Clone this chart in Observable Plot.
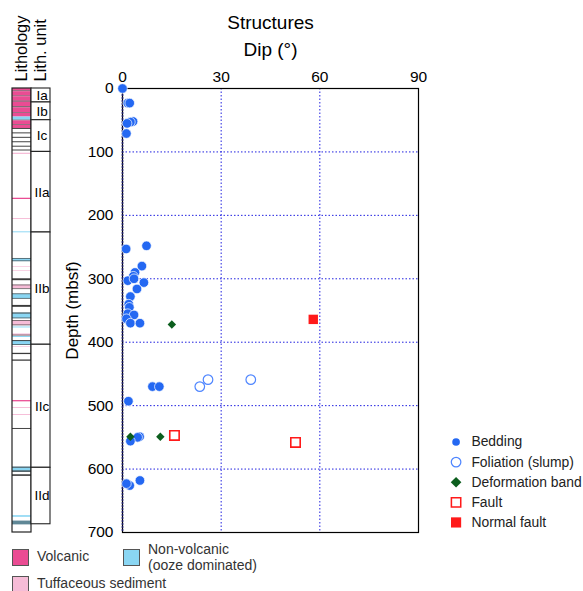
<!DOCTYPE html>
<html><head><meta charset="utf-8">
<script src="https://cdn.jsdelivr.net/npm/d3@7"></script>
<script src="https://cdn.jsdelivr.net/npm/@observablehq/plot@0.6"></script>
<style>
body{margin:0;background:#fff;font-family:"Liberation Sans",Arial,sans-serif;}
#wrap{position:relative;width:583px;height:591px;overflow:hidden;}
#wrap>div.abs{position:absolute;}
.sw{position:absolute;width:15px;height:15px;border:1px solid #555;}
.lt{position:absolute;font-size:14px;color:#333;line-height:16px;white-space:nowrap;}
</style></head><body>
<div id="wrap"></div>
<script>
// ---- Data ----
const dipTicks = [0, 30, 60, 90];
const depthTicks = [0, 100, 200, 300, 400, 500, 600, 700];

const beddingDip   = [0,1.6,2.2,3.2,2.4,1.4,1.2, 1.1,7.3,5.9,3.8,3.3,1.6,3.5,6.5,4.4,2.4,1.9,2.1,1.6,3.5,1.2,2.4,5.3, 9.1,11.2,1.8, 5.2,4.6,2.4, 5.3,2.2,1.2];
const beddingDepth = [0,23,23,52,53,55,71, 253,248,280,290,296,303,300,306,316,328,340,345,355,357,363,370,370, 470,470,493, 549,550,556, 618,626,623];
const foliationDip   = [26, 39, 23.5];
const foliationDepth = [459, 459, 470];
const deformDip   = [15, 2.4, 11.5];
const deformDepth = [372, 549, 549];
const faultDip   = [15.8, 52.6];
const faultDepth = [547, 558];
const normalFaultDip   = [58];
const normalFaultDepth = [364];

const legendNames = ["Bedding", "Foliation (slump)", "Deformation band", "Fault", "Normal fault"];

const unitNames  = ["Ia", "Ib", "Ic", "IIa", "IIb", "IIc", "IId"];
const unitTop    = [0, 22, 50, 100, 227, 404, 598];
const unitBottom = [22, 50, 100, 227, 404, 598, 687];

// lithology layers: top, bottom, type (V volcanic, T tuffaceous, O ooze, D dark line, G grey band)
const layerTop    = [0,4,5,12,13,20,21.5,29,30.5,38,39,45,50,51,57,58,63, 70,77,84,91,97,102, 173,205,226, 268,268,272,281,287,300,310,310,316,324,324,331,342,354,354,362,366,366,373,376, 387,389,391,397.5,397.5,404,407,417.5,428,492,503,514,536,597,597,603,609,673.5,682];
const layerBottom = [4,5,12,13,20,21.5,29,30.5,38,39,45,50,51,57,58,63,64.5, 71.5,78.5,85.5,92.5,98.5,104, 175,206.5,227.5, 273,269,273,282,288,303,316,311,317,332,325,332,345,363,355.5,363,374,367,374,377.5, 390,390,392.5,405,399,405,408,419.5,430,494,504.5,515.5,537.5,605,598.5,605,611.5,676,688];
const layerType   = ["V","D","V","D","V","D","V","D","V","D","V","O","D","V","D","V","D", "D","D","D","D","D","T", "V","T","O", "O","D","D","T","T","D","T","D","D","O","D","D","D","O","D","D","T","D","D","O", "T","D","O","O","D","D","T","D","D","V","T","T","D","O","D","D","D","O","G"];

const litColor = {V:"#ea4c93", T:"#f6bcd7", O:"#8ad6f3", D:"#3b3b3b", G:"#5f8796"};

// ---- Build tables ----
const zip = (a, b) => a.map((v, i) => ({dip: v, depth: b[i]}));
const bedding = zip(beddingDip, beddingDepth);
const foliation = zip(foliationDip, foliationDepth);
const deform = zip(deformDip, deformDepth);
const fault = zip(faultDip, faultDepth);
const normalFault = zip(normalFaultDip, normalFaultDepth);
const units = unitNames.map((n, i) => ({name: n, top: unitTop[i], bottom: unitBottom[i]}));
const layers = layerTop.map((t, i) => ({top: t, bottom: layerBottom[i], type: layerType[i]}));

const FONT = "Liberation Sans, Arial, sans-serif";
const BLUE = "#2468f2", FOL = "#4f86ff", GREEN = "#0c5e1e", RED = "#ff1a1a";
const grid = {stroke: "#2020e0", strokeOpacity: 1, strokeWidth: 1, strokeDasharray: "1.5,2"};

const main = Plot.plot({
  width: 583, height: 591,
  marginTop: 88, marginBottom: 59, marginLeft: 122, marginRight: 165,
  style: {fontFamily: FONT, fontSize: "15.5px", color: "#000", background: "transparent", overflow: "visible"},
  x: {domain: [0, 90]},
  y: {domain: [0, 700], reverse: true},
  marks: [
    Plot.gridX(dipTicks.slice(1, 3), grid),
    Plot.gridY(depthTicks.slice(1, 7), grid),
    Plot.frame({stroke: "#000", strokeWidth: 1.2}),
    Plot.ruleX([0], {stroke: "#1a1a66", strokeWidth: 1.6, strokeDasharray: "2,1"}),
    Plot.axisX(dipTicks, {anchor: "top", tickSize: 0, tickPadding: 7, label: null, fontSize: 15.5}),
    Plot.axisY(depthTicks, {anchor: "left", tickSize: 0, tickPadding: 9, label: null, fontSize: 15.5}),
    Plot.text(["Depth (mbsf)"], {frameAnchor: "left", dx: -50, rotate: -90, fontSize: 17, textAnchor: "middle", lineAnchor: "middle"}),
    Plot.text(["Structures"], {frameAnchor: "top", dy: -66, fontSize: 19, textAnchor: "middle", lineAnchor: "middle"}),
    Plot.text(["Dip (°)"], {frameAnchor: "top", dy: -39, fontSize: 19, textAnchor: "middle", lineAnchor: "middle"}),
    Plot.dot(foliation, {x: "dip", y: "depth", r: 4.8, fill: "white", stroke: FOL, strokeWidth: 1.2}),
    Plot.dot(bedding, {x: "dip", y: "depth", r: 4.8, fill: BLUE, stroke: "white", strokeWidth: 0.7}),
    Plot.dot(deform, {x: "dip", y: "depth", symbol: "diamond2", r: 3.8, fill: GREEN}),
    Plot.dot(fault, {x: "dip", y: "depth", symbol: "square", r: 5.3, fill: "white", stroke: RED, strokeWidth: 1.6}),
    Plot.dot(normalFault, {x: "dip", y: "depth", symbol: "square", r: 5.3, fill: RED})
  ]
});

const lith = Plot.plot({
  width: 60, height: 591,
  marginTop: 88, marginBottom: 59, marginLeft: 0, marginRight: 0,
  style: {fontFamily: FONT, fontSize: "13px", color: "#000", background: "transparent", overflow: "visible"},
  x: {type: "band", domain: ["lith", "unit"], range: [11.7, 51], padding: 0, axis: null},
  y: {domain: [0, 700], reverse: true, axis: null},
  marks: [
    Plot.barY([0], {x: () => "lith", y1: 0, y2: 700, fill: "white", insetLeft: 0, insetRight: 0}),
    Plot.barY(layers, {x: () => "lith", y1: "top", y2: "bottom", fill: d => litColor[d.type], insetLeft: 0, insetRight: 0}),
    Plot.barY([0], {x: () => "lith", y1: 0, y2: 700, fill: "none", stroke: "#222", strokeWidth: 1.2, insetLeft: 0, insetRight: 0}),
    Plot.barY(units, {x: () => "unit", y1: "top", y2: "bottom", fill: "white", stroke: "#222", strokeWidth: 1.1, insetLeft: 0, insetRight: 0}),
    Plot.text(units, {x: () => "unit", y: d => (d.top + d.bottom) / 2, text: "name", fontSize: 13.5, dx: 1}),
    Plot.text(["Lithology"], {x: () => "lith", frameAnchor: "top", dy: -7, rotate: -90, textAnchor: "start", lineAnchor: "middle", fontSize: 16.5}),
    Plot.text(["Lith. unit"], {x: () => "unit", frameAnchor: "top", dy: -7, rotate: -90, textAnchor: "start", lineAnchor: "middle", fontSize: 16.5})
  ]
});

const legendStyle = {
  "Bedding": {symbol: "circle", r: 4, fill: BLUE, stroke: "none"},
  "Foliation (slump)": {symbol: "circle", r: 5, fill: "white", stroke: FOL, strokeWidth: 1.3},
  "Deformation band": {symbol: "diamond2", r: 5, fill: GREEN, stroke: "none"},
  "Fault": {symbol: "square", r: 5.5, fill: "white", stroke: RED, strokeWidth: 1.6},
  "Normal fault": {symbol: "square", r: 6, fill: RED, stroke: "none"}
};
const legend = Plot.plot({
  width: 143, height: 110,
  marginTop: 11, marginBottom: 11, marginLeft: 10, marginRight: 0,
  style: {fontFamily: FONT, fontSize: "14.5px", color: "#222", background: "transparent", overflow: "visible"},
  x: {axis: null, domain: [0, 1]},
  y: {type: "point", domain: legendNames, range: [11, 97], padding: 0, axis: null},
  marks: [
    ...legendNames.map(n => Plot.dot([n], {y: d => d, frameAnchor: "left", ...legendStyle[n]})),
    Plot.text(legendNames, {y: d => d, text: d => d, frameAnchor: "left", dx: 16, textAnchor: "start", lineAnchor: "middle", fontSize: 14.5, fill: "#222"})
  ]
});

const wrap = document.getElementById("wrap");
function place(node, left, top) {
  const d = document.createElement("div");
  d.className = "abs"; d.style.left = left + "px"; d.style.top = top + "px";
  d.appendChild(node); wrap.appendChild(d);
}
place(main, 0, 0);
place(lith, 0, 0);
place(legend, 446, 430);

// lithology legend (HTML)
const litLegend = [
  {label: ["Volcanic"], color: litColor.V, left: 12, top: 549},
  {label: ["Non-volcanic", "(ooze dominated)"], color: litColor.O, left: 123, top: 549},
  {label: ["Tuffaceous sediment"], color: litColor.T, left: 12, top: 576}
];
litLegend.forEach(it => {
  const s = document.createElement("div");
  s.className = "sw"; s.style.left = it.left + "px"; s.style.top = it.top + "px"; s.style.background = it.color;
  wrap.appendChild(s);
  const t = document.createElement("div");
  t.className = "lt"; t.style.left = (it.left + 25) + "px";
  t.style.top = (it.label.length > 1 ? it.top - 8 : it.top - 1) + "px";
  t.innerHTML = it.label.join("<br>");
  wrap.appendChild(t);
});
</script>
</body></html>
